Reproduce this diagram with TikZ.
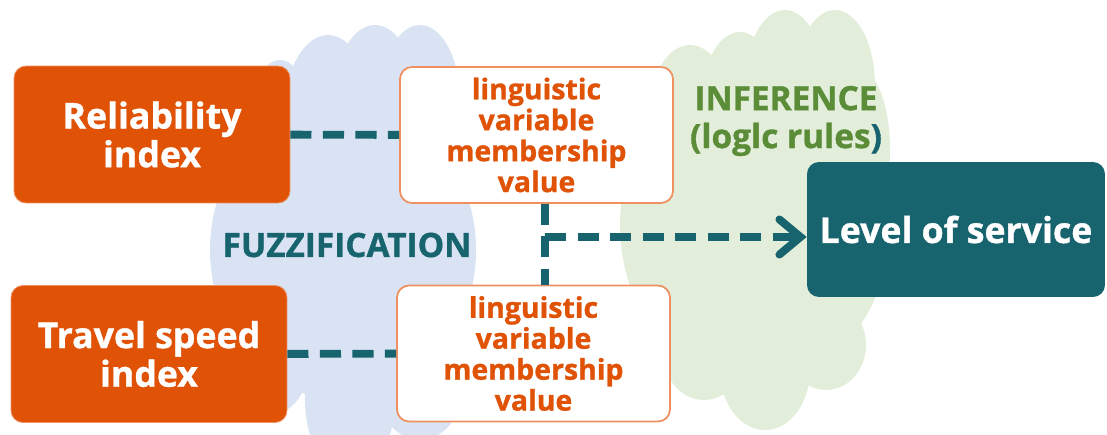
\documentclass[tikz,border=0pt]{standalone}
\usepackage{fontspec}
\setmainfont{Open Sans}[BoldFeatures={FakeBold=1}]
\usetikzlibrary{positioning,shapes,arrows.meta}
\definecolor{fzorange}{HTML}{E05206}
\definecolor{fzline}{HTML}{EE9060}
\definecolor{fzteal}{HTML}{17636E}
\definecolor{fzgreen}{HTML}{5B8C38}
\definecolor{fzblue}{HTML}{D9E3F3}
\definecolor{fzlime}{HTML}{E2EEDA}
\tikzset{
        inbox/.style={rectangle, rounded corners=0.24cm, fill=fzorange, draw=fzline, line width=0.5pt,
                text=white, align=center, font=\bfseries\fontsize{20.3}{22}\selectfont,
                minimum width=5.52cm, minimum height=2.74cm}, % the two input indexes
        mvbox/.style={rectangle, rounded corners=0.24cm, fill=white, draw=fzline, line width=1pt,
                text=fzorange, align=center, font=\bfseries\fontsize{16.2}{17.6}\selectfont,
                minimum width=5.46cm, minimum height=2.72cm}, % membership values
        outbox/.style={rectangle, rounded corners=0.24cm, fill=fzteal, text=white,
                font=\bfseries\fontsize{20.3}{22}\selectfont,
                minimum width=5.96cm, minimum height=2.7cm},
        dashline/.style={draw=fzteal, line width=4.5pt, dash pattern=on 12pt off 6.5pt},
        steplabel/.style={font=\bfseries\fontsize{19}{21.6}\selectfont, align=center},
}

\begin{document}
\begin{tikzpicture}[x=0.02cm, y=-0.02cm]
\useasboundingbox (0,0) rectangle (1107,434);
% clouds behind everything
\fill[fzblue] (343,250) ellipse [x radius=133, y radius=150];
\fill[fzblue] (280,120) ellipse [x radius=30, y radius=60];
\fill[fzblue] (328,120) ellipse [x radius=45, y radius=85];
\fill[fzblue] (375,95) ellipse [x radius=40, y radius=70];
\fill[fzblue] (420,100) ellipse [x radius=40, y radius=75];
\fill[fzblue] (270,360) ellipse [x radius=40, y radius=55];
\fill[fzblue] (350,400) ellipse [x radius=45, y radius=75];
\fill[fzblue] (420,380) ellipse [x radius=45, y radius=60];
\fill[fzlime] (755,225) ellipse [x radius=135, y radius=160];
\fill[fzlime] (690,110) ellipse [x radius=40, y radius=65];
\fill[fzlime] (740,100) ellipse [x radius=38, y radius=68];
\fill[fzlime] (785,85) ellipse [x radius=40, y radius=75];
\fill[fzlime] (835,85) ellipse [x radius=40, y radius=75];
\fill[fzlime] (860,150) ellipse [x radius=30, y radius=80];
\fill[fzlime] (704,350) ellipse [x radius=42, y radius=50];
\fill[fzlime] (765,370) ellipse [x radius=45, y radius=60];
\fill[fzlime] (826,345) ellipse [x radius=40, y radius=45];

\node[inbox] (rel) at (152,134.5) {Reliability\\index};
\node[inbox] (speed) at (149,354) {Travel speed\\index};
\node[mvbox] (mv1) at (536.5,135) {linguistic\\variable\\membership\\value};
\node[mvbox] (mv2) at (533.5,353.5) {linguistic\\variable\\membership\\value};
\node[outbox] (los) at (956,229.5) {Level of service};

\node[steplabel, text=fzteal] (fuzz) at (347,245) {FUZZIFICATION};
\node[steplabel, text=fzgreen] (infer) at (786,121) {INFERENCE\\(loglc rules\textcolor{fzteal}{)}};

\coordinate (j) at (545,237);
\draw[dashline] (rel) -- (mv1);
\draw[dashline] (speed) -- (mv2);
\draw[dashline] (mv1.south -| j) -- (mv2.north -| j);
\draw[dashline, -{Straight Barb[length=12pt, width=20pt, line cap=round]}] (j) -- (j -| los.west);
\end{tikzpicture}
\end{document}
